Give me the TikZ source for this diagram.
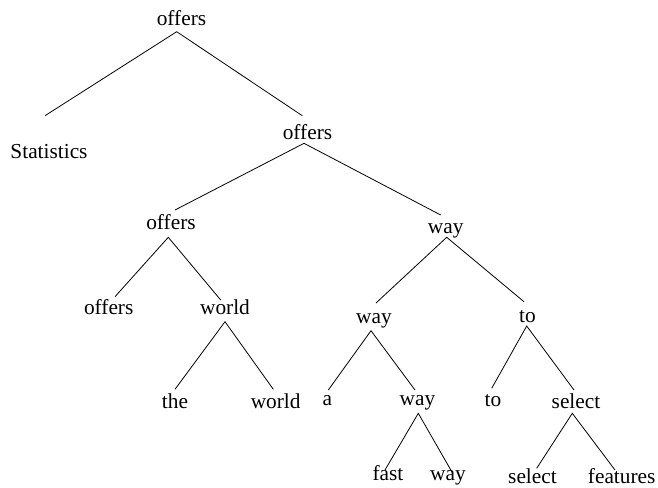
\documentclass[tikz,border=0pt]{standalone}
\usepackage{fontspec}
\setmainfont{Liberation Serif}
\begin{document}
\begin{tikzpicture}[x=0.75pt,y=-0.75pt,
  word/.style={anchor=base,inner sep=0pt,font=\fontsize{16}{18}\selectfont},
  edge/.style={draw=black,line width=0.6pt}]
\useasboundingbox (0,0) rectangle (658,487);
% words
\node[word] (r) at (181.5,25) {offers};
\node[word] (stat) at (49,158) {Statistics};
\node[word] (o2) at (307.5,139) {offers};
\node[word] (o3) at (171,229) {offers};
\node[word] (w1) at (445.7,233) {way};
\node[word] (o4) at (108.7,314) {offers};
\node[word] (wd1) at (225,314) {world};
\node[word] (w2) at (374,323) {way};
\node[word] (t1) at (527.5,322) {to};
\node[word] (the) at (175,408) {the};
\node[word] (wd2) at (275.7,408) {world};
\node[word] (a) at (327.3,405) {a};
\node[word] (w3) at (417.5,405) {way};
\node[word] (t2) at (493,406) {to};
\node[word] (sel1) at (576,408) {select};
\node[word] (fast) at (388,480) {fast};
\node[word] (w4) at (448,480) {way};
\node[word] (sel2) at (532.5,483) {select};
\node[word] (feat) at (621.7,483) {features};
% connector end points
\coordinate (r-a) at (176.7,31.7);
\coordinate (stat-t) at (45,115.7);
\coordinate (o2-t) at (302.3,115.7);
\coordinate (o2-a) at (304,143.3);
\coordinate (o3-t) at (175,210);
\coordinate (w1-t) at (440.7,215);
\coordinate (o3-a) at (168.3,237.3);
\coordinate (o4-t) at (115,296.7);
\coordinate (wd1-t) at (220.7,300);
\coordinate (w1-a) at (446.7,237.3);
\coordinate (w2-t) at (376,303);
\coordinate (t1-t) at (524,301.7);
\coordinate (wd1-a) at (225,321.7);
\coordinate (the-t) at (175,389.3);
\coordinate (wd2-t) at (273.3,389.3);
\coordinate (w2-a) at (371,330.7);
\coordinate (a-t) at (328.3,390);
\coordinate (w3-t) at (415,390);
\coordinate (t1-a) at (526.7,326);
\coordinate (t2-t) at (491.7,388.3);
\coordinate (sel1-t) at (574,390);
\coordinate (w3-a) at (418.3,413.3);
\coordinate (fast-t) at (385,470);
\coordinate (w4-t) at (452.7,473.3);
\coordinate (sel1-a) at (572.3,413.3);
\coordinate (sel2-t) at (536.7,468.3);
\coordinate (feat-t) at (615,470);
% connectors
\draw[edge] (stat-t) -- (r-a) -- (o2-t);
\draw[edge] (o3-t) -- (o2-a) -- (w1-t);
\draw[edge] (o4-t) -- (o3-a) -- (wd1-t);
\draw[edge] (w2-t) -- (w1-a) -- (t1-t);
\draw[edge] (the-t) -- (wd1-a) -- (wd2-t);
\draw[edge] (a-t) -- (w2-a) -- (w3-t);
\draw[edge] (t2-t) -- (t1-a) -- (sel1-t);
\draw[edge] (fast-t) -- (w3-a) -- (w4-t);
\draw[edge] (sel2-t) -- (sel1-a) -- (feat-t);
\end{tikzpicture}
\end{document}
